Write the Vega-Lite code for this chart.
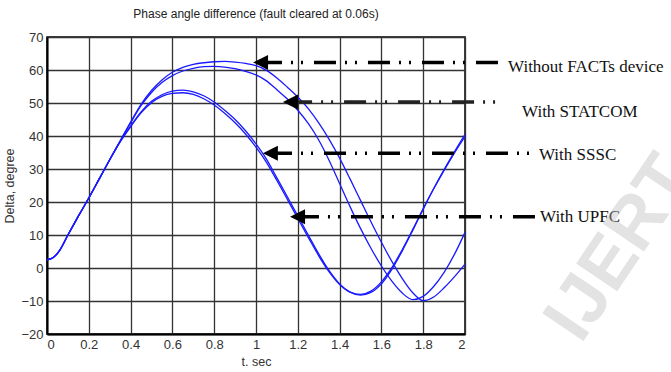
{
  "$schema": "https://vega.github.io/schema/vega-lite/v6.json",
  "width": 418,
  "height": 297,
  "autosize": "none",
  "padding": {"left": 47, "top": 37, "right": 206, "bottom": 38},
  "background": "white",
  "title": {"text": "Phase angle difference (fault cleared at 0.06s)", "font": "Liberation Sans", "fontSize": 12, "fontWeight": "normal", "color": "#222", "offset": 10},
  "config": {
    "view": {"stroke": "#000", "strokeWidth": 1.5},
    "axis": {"labelFont": "Liberation Sans", "labelFontSize": 13, "labelColor": "#333", "titleFont": "Liberation Sans", "titleFontSize": 12.5, "titleFontWeight": "normal", "titleColor": "#333", "gridColor": "#333", "gridWidth": 1.3, "gridOpacity": 1, "domainColor": "#000", "domainWidth": 2, "ticks": false, "labelPadding": 4, "labelOverlap": false}
  },
  "datasets": {
    "curves": [
      {"series": "Without", "t": 0, "delta": 2.5}, {"series": "Without", "t": 0.03, "delta": 3.2}, {"series": "Without", "t": 0.06, "delta": 5.3}, {"series": "Without", "t": 0.1, "delta": 10}, {"series": "Without", "t": 0.15, "delta": 15.7}, {"series": "Without", "t": 0.2, "delta": 21.2}, {"series": "Without", "t": 0.25, "delta": 27}, {"series": "Without", "t": 0.3, "delta": 32.8}, {"series": "Without", "t": 0.35, "delta": 38.5},
      {"series": "Without", "t": 0.4, "delta": 44.2}, {"series": "Without", "t": 0.45, "delta": 49.6}, {"series": "Without", "t": 0.5, "delta": 53.8}, {"series": "Without", "t": 0.55, "delta": 57}, {"series": "Without", "t": 0.6, "delta": 59.3}, {"series": "Without", "t": 0.65, "delta": 60.8}, {"series": "Without", "t": 0.7, "delta": 61.7}, {"series": "Without", "t": 0.75, "delta": 62.2}, {"series": "Without", "t": 0.8, "delta": 62.5}, {"series": "Without", "t": 0.85, "delta": 62.6}, {"series": "Without", "t": 0.9, "delta": 62.4}, {"series": "Without", "t": 0.95, "delta": 62}, {"series": "Without", "t": 1.0, "delta": 61.3}, {"series": "Without", "t": 1.05, "delta": 59.9}, {"series": "Without", "t": 1.1, "delta": 57.6}, {"series": "Without", "t": 1.15, "delta": 54.8}, {"series": "Without", "t": 1.2, "delta": 51.8}, {"series": "Without", "t": 1.25, "delta": 48.3}, {"series": "Without", "t": 1.3, "delta": 44}, {"series": "Without", "t": 1.35, "delta": 39}, {"series": "Without", "t": 1.4, "delta": 33.3}, {"series": "Without", "t": 1.45, "delta": 27}, {"series": "Without", "t": 1.5, "delta": 20.5}, {"series": "Without", "t": 1.55, "delta": 14}, {"series": "Without", "t": 1.6, "delta": 7.8}, {"series": "Without", "t": 1.65, "delta": 2}, {"series": "Without", "t": 1.7, "delta": -3.2}, {"series": "Without", "t": 1.75, "delta": -7.5}, {"series": "Without", "t": 1.8, "delta": -9.9}, {"series": "Without", "t": 1.85, "delta": -8.8}, {"series": "Without", "t": 1.9, "delta": -6}, {"series": "Without", "t": 1.95, "delta": -2.6}, {"series": "Without", "t": 2.0, "delta": 1.2},

      {"series": "STATCOM", "t": 0, "delta": 2.5}, {"series": "STATCOM", "t": 0.03, "delta": 3.2}, {"series": "STATCOM", "t": 0.06, "delta": 5.3}, {"series": "STATCOM", "t": 0.1, "delta": 10}, {"series": "STATCOM", "t": 0.15, "delta": 15.7}, {"series": "STATCOM", "t": 0.2, "delta": 21.2}, {"series": "STATCOM", "t": 0.25, "delta": 27}, {"series": "STATCOM", "t": 0.3, "delta": 32.8}, {"series": "STATCOM", "t": 0.35, "delta": 38.5},
      {"series": "STATCOM", "t": 0.4, "delta": 44}, {"series": "STATCOM", "t": 0.45, "delta": 49.2}, {"series": "STATCOM", "t": 0.5, "delta": 53.2}, {"series": "STATCOM", "t": 0.55, "delta": 56.2}, {"series": "STATCOM", "t": 0.6, "delta": 58.3}, {"series": "STATCOM", "t": 0.65, "delta": 59.7}, {"series": "STATCOM", "t": 0.7, "delta": 60.5}, {"series": "STATCOM", "t": 0.75, "delta": 61}, {"series": "STATCOM", "t": 0.8, "delta": 61.1}, {"series": "STATCOM", "t": 0.85, "delta": 60.9}, {"series": "STATCOM", "t": 0.9, "delta": 60.4}, {"series": "STATCOM", "t": 0.95, "delta": 59.6}, {"series": "STATCOM", "t": 1.0, "delta": 58.5}, {"series": "STATCOM", "t": 1.05, "delta": 56.7}, {"series": "STATCOM", "t": 1.1, "delta": 54}, {"series": "STATCOM", "t": 1.15, "delta": 51.2}, {"series": "STATCOM", "t": 1.2, "delta": 47.8}, {"series": "STATCOM", "t": 1.25, "delta": 43.8}, {"series": "STATCOM", "t": 1.3, "delta": 38.8}, {"series": "STATCOM", "t": 1.35, "delta": 32.6}, {"series": "STATCOM", "t": 1.4, "delta": 25.6}, {"series": "STATCOM", "t": 1.45, "delta": 18.6}, {"series": "STATCOM", "t": 1.5, "delta": 12}, {"series": "STATCOM", "t": 1.55, "delta": 6}, {"series": "STATCOM", "t": 1.6, "delta": 0.6}, {"series": "STATCOM", "t": 1.65, "delta": -4}, {"series": "STATCOM", "t": 1.7, "delta": -7.6}, {"series": "STATCOM", "t": 1.75, "delta": -9.6}, {"series": "STATCOM", "t": 1.8, "delta": -8.6}, {"series": "STATCOM", "t": 1.85, "delta": -5.6}, {"series": "STATCOM", "t": 1.9, "delta": -1.3}, {"series": "STATCOM", "t": 1.95, "delta": 4.2}, {"series": "STATCOM", "t": 2.0, "delta": 10.8},

      {"series": "SSSC", "t": 0, "delta": 2.5}, {"series": "SSSC", "t": 0.03, "delta": 3.2}, {"series": "SSSC", "t": 0.06, "delta": 5.3}, {"series": "SSSC", "t": 0.1, "delta": 10}, {"series": "SSSC", "t": 0.15, "delta": 15.7}, {"series": "SSSC", "t": 0.2, "delta": 21.2}, {"series": "SSSC", "t": 0.25, "delta": 27}, {"series": "SSSC", "t": 0.3, "delta": 32.8}, {"series": "SSSC", "t": 0.35, "delta": 38.3},
      {"series": "SSSC", "t": 0.4, "delta": 43}, {"series": "SSSC", "t": 0.45, "delta": 47.3}, {"series": "SSSC", "t": 0.5, "delta": 50.5}, {"series": "SSSC", "t": 0.55, "delta": 52.5}, {"series": "SSSC", "t": 0.6, "delta": 53.6}, {"series": "SSSC", "t": 0.65, "delta": 53.9}, {"series": "SSSC", "t": 0.7, "delta": 53.4}, {"series": "SSSC", "t": 0.75, "delta": 52.2}, {"series": "SSSC", "t": 0.8, "delta": 50.3}, {"series": "SSSC", "t": 0.85, "delta": 47.8}, {"series": "SSSC", "t": 0.9, "delta": 45}, {"series": "SSSC", "t": 0.95, "delta": 41.6}, {"series": "SSSC", "t": 1.0, "delta": 37.6}, {"series": "SSSC", "t": 1.05, "delta": 33}, {"series": "SSSC", "t": 1.1, "delta": 27.3}, {"series": "SSSC", "t": 1.15, "delta": 21.6}, {"series": "SSSC", "t": 1.2, "delta": 15.8}, {"series": "SSSC", "t": 1.25, "delta": 10}, {"series": "SSSC", "t": 1.3, "delta": 4.3}, {"series": "SSSC", "t": 1.35, "delta": -0.8}, {"series": "SSSC", "t": 1.4, "delta": -4.8}, {"series": "SSSC", "t": 1.45, "delta": -7.3}, {"series": "SSSC", "t": 1.5, "delta": -8.2}, {"series": "SSSC", "t": 1.55, "delta": -7.4}, {"series": "SSSC", "t": 1.6, "delta": -4.8}, {"series": "SSSC", "t": 1.65, "delta": -0.4}, {"series": "SSSC", "t": 1.7, "delta": 5.2}, {"series": "SSSC", "t": 1.75, "delta": 11.4}, {"series": "SSSC", "t": 1.8, "delta": 17.8}, {"series": "SSSC", "t": 1.85, "delta": 24}, {"series": "SSSC", "t": 1.9, "delta": 29.8}, {"series": "SSSC", "t": 1.95, "delta": 35.3}, {"series": "SSSC", "t": 2.0, "delta": 40.5},

      {"series": "UPFC", "t": 0, "delta": 2.5}, {"series": "UPFC", "t": 0.03, "delta": 3.2}, {"series": "UPFC", "t": 0.06, "delta": 5.3}, {"series": "UPFC", "t": 0.1, "delta": 10}, {"series": "UPFC", "t": 0.15, "delta": 15.7}, {"series": "UPFC", "t": 0.2, "delta": 21.2}, {"series": "UPFC", "t": 0.25, "delta": 27}, {"series": "UPFC", "t": 0.3, "delta": 32.8}, {"series": "UPFC", "t": 0.35, "delta": 38.2},
      {"series": "UPFC", "t": 0.4, "delta": 42.8}, {"series": "UPFC", "t": 0.45, "delta": 47}, {"series": "UPFC", "t": 0.5, "delta": 50.1}, {"series": "UPFC", "t": 0.55, "delta": 52}, {"series": "UPFC", "t": 0.6, "delta": 52.9}, {"series": "UPFC", "t": 0.65, "delta": 53.1}, {"series": "UPFC", "t": 0.7, "delta": 52.6}, {"series": "UPFC", "t": 0.75, "delta": 51.3}, {"series": "UPFC", "t": 0.8, "delta": 49.4}, {"series": "UPFC", "t": 0.85, "delta": 46.9}, {"series": "UPFC", "t": 0.9, "delta": 44}, {"series": "UPFC", "t": 0.95, "delta": 40.6}, {"series": "UPFC", "t": 1.0, "delta": 36.6}, {"series": "UPFC", "t": 1.05, "delta": 32}, {"series": "UPFC", "t": 1.1, "delta": 26.5}, {"series": "UPFC", "t": 1.15, "delta": 20.8}, {"series": "UPFC", "t": 1.2, "delta": 15}, {"series": "UPFC", "t": 1.25, "delta": 9.3}, {"series": "UPFC", "t": 1.3, "delta": 3.7}, {"series": "UPFC", "t": 1.35, "delta": -1.2}, {"series": "UPFC", "t": 1.4, "delta": -5}, {"series": "UPFC", "t": 1.45, "delta": -7.3}, {"series": "UPFC", "t": 1.5, "delta": -8}, {"series": "UPFC", "t": 1.55, "delta": -7}, {"series": "UPFC", "t": 1.6, "delta": -4.2}, {"series": "UPFC", "t": 1.65, "delta": 0.1}, {"series": "UPFC", "t": 1.7, "delta": 5.6}, {"series": "UPFC", "t": 1.75, "delta": 11.7}, {"series": "UPFC", "t": 1.8, "delta": 18}, {"series": "UPFC", "t": 1.85, "delta": 24}, {"series": "UPFC", "t": 1.9, "delta": 29.6}, {"series": "UPFC", "t": 1.95, "delta": 34.9}, {"series": "UPFC", "t": 2.0, "delta": 39.8}
    ],
    "notes": [
      {"label": "Without FACTs device", "tipT": 0.986, "startT": 1.019, "endT": 2.167, "lineV": 62.3, "textT": 2.206, "textV": 60.9, "lineColor": "#000"},
      {"label": "With STATCOM", "tipT": 1.129, "startT": 1.163, "endT": 2.167, "lineV": 50.3, "textT": 2.273, "textV": 47.3, "lineColor": "#222"},
      {"label": "With SSSC", "tipT": 1.033, "startT": 1.067, "endT": 2.34, "lineV": 34.8, "textT": 2.354, "textV": 34.2, "lineColor": "#000"},
      {"label": "With UPFC", "tipT": 1.163, "startT": 1.196, "endT": 2.34, "lineV": 15.5, "textT": 2.359, "textV": 15.5, "lineColor": "#000"}
    ],
    "mark": [
      {"text": "IJERT", "t": 2.74, "v": 6}
    ]
  },
  "layer": [
    {
      "data": {"name": "curves"},
      "mark": {"type": "line", "interpolate": "monotone", "strokeWidth": 1.3, "color": "#1a1aff"},
      "encoding": {
        "x": {"field": "t", "type": "quantitative", "scale": {"domain": [0, 2], "nice": false, "zero": false},
              "axis": {"values": [0, 0.2, 0.4, 0.6, 0.8, 1, 1.2, 1.4, 1.6, 1.8, 2], "format": "~g", "title": "t. sec", "titlePadding": 4, "grid": true}},
        "y": {"field": "delta", "type": "quantitative", "scale": {"domain": [-20, 70], "nice": false, "zero": false},
              "axis": {"values": [-20, -10, 0, 10, 20, 30, 40, 50, 60, 70], "title": "Delta, degree", "titlePadding": 4, "grid": true}},
        "detail": {"field": "series", "type": "nominal"}
      }
    },
    {
      "data": {"name": "notes"},
      "mark": {"type": "rule", "strokeWidth": 3.5, "strokeDash": [22, 9, 2, 8, 2, 11]},
      "encoding": {
        "x": {"field": "startT", "type": "quantitative", "axis": {"values": [0, 0.2, 0.4, 0.6, 0.8, 1, 1.2, 1.4, 1.6, 1.8, 2], "format": "~g", "title": "t. sec", "titlePadding": 4, "grid": true}},
        "x2": {"field": "endT"},
        "y": {"field": "lineV", "type": "quantitative", "axis": {"values": [-20, -10, 0, 10, 20, 30, 40, 50, 60, 70], "title": "Delta, degree", "titlePadding": 4, "grid": true}},
        "color": {"field": "lineColor", "type": "nominal", "scale": null}
      }
    },
    {
      "data": {"name": "notes"},
      "mark": {"type": "point", "shape": "M0,0L2,-1L2,1Z", "filled": true, "color": "#000", "size": 225, "opacity": 1},
      "encoding": {
        "x": {"field": "tipT", "type": "quantitative", "axis": {"values": [0, 0.2, 0.4, 0.6, 0.8, 1, 1.2, 1.4, 1.6, 1.8, 2], "format": "~g", "title": "t. sec", "titlePadding": 4, "grid": true}},
        "y": {"field": "lineV", "type": "quantitative", "axis": {"values": [-20, -10, 0, 10, 20, 30, 40, 50, 60, 70], "title": "Delta, degree", "titlePadding": 4, "grid": true}}
      }
    },
    {
      "data": {"name": "notes"},
      "mark": {"type": "text", "align": "left", "baseline": "middle", "font": "Liberation Serif", "fontSize": 17, "color": "#111"},
      "encoding": {
        "x": {"field": "textT", "type": "quantitative", "axis": {"values": [0, 0.2, 0.4, 0.6, 0.8, 1, 1.2, 1.4, 1.6, 1.8, 2], "format": "~g", "title": "t. sec", "titlePadding": 4, "grid": true}},
        "y": {"field": "textV", "type": "quantitative", "axis": {"values": [-20, -10, 0, 10, 20, 30, 40, 50, 60, 70], "title": "Delta, degree", "titlePadding": 4, "grid": true}},
        "text": {"field": "label"}
      }
    },
    {
      "data": {"name": "mark"},
      "mark": {"type": "text", "align": "center", "baseline": "middle", "angle": -56, "font": "Liberation Sans", "fontWeight": "bold", "fontSize": 72, "color": "#bbbbbb", "opacity": 0.4},
      "encoding": {
        "x": {"field": "t", "type": "quantitative", "axis": {"values": [0, 0.2, 0.4, 0.6, 0.8, 1, 1.2, 1.4, 1.6, 1.8, 2], "format": "~g", "title": "t. sec", "titlePadding": 4, "grid": true}},
        "y": {"field": "v", "type": "quantitative", "axis": {"values": [-20, -10, 0, 10, 20, 30, 40, 50, 60, 70], "title": "Delta, degree", "titlePadding": 4, "grid": true}},
        "text": {"field": "text"}
      }
    }
  ]
}
